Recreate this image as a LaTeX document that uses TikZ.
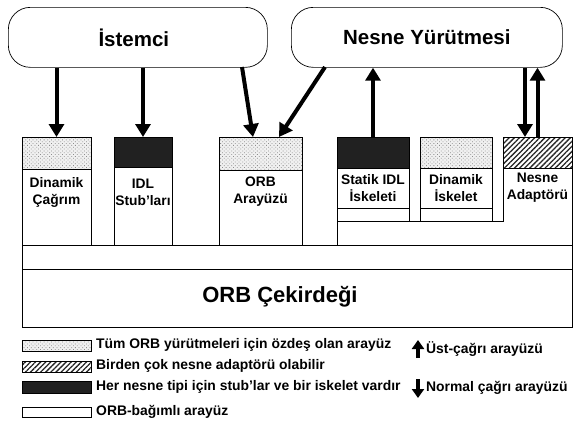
\documentclass[tikz,border=0pt]{standalone}
\usepackage{fontspec}
\setmainfont{Liberation Sans}
\usetikzlibrary{arrows.meta,patterns,patterns.meta}
\newcommand\cellbox[6]{\node[cell,#6,minimum width=#4-#2,minimum height=#5-#3] (#1) at (#2,#3) {};}
\begin{document}
\begin{tikzpicture}[x=1pt,y=-1pt,
  cell/.style={draw, line width=0.7pt, inner sep=0pt, outer sep=0pt, anchor=north west},
  dotsfill/.style={preaction={fill=gray!12}, pattern={Dots[distance=2.6pt,radius=0.55pt,angle=45]}, pattern color=gray!90},
  hatchfill/.style={pattern={Lines[angle=45,distance=3.6pt,line width=1.3pt]}, pattern color=black!85},
  darkfill/.style={fill=black!87},
  plain/.style={fill=white},
  proc/.style={draw, line width=0.7pt, rounded corners=22pt, inner sep=0pt, anchor=north west,
    font=\fontsize{20.5}{24}\selectfont\bfseries},
  title/.style={font=\fontsize{22}{26}\selectfont\bfseries, inner sep=0pt},
  lbl/.style={font=\fontsize{13.8}{17}\selectfont\bfseries, align=center, inner sep=0pt},
  leg/.style={font=\fontsize{13.9}{16}\selectfont\bfseries, anchor=west, inner sep=0pt},
  flow/.style={line width=4pt, -{Triangle[width=15pt,length=13pt]}},
  legflow/.style={line width=3.5pt, -{Triangle[width=12pt,length=9pt]}},
]
\useasboundingbox (0,0) rectangle (574,423);
% process boxes
\node[proc, minimum width=259pt, minimum height=60pt] (ist) at (8,7) {\kern-8pt İstemci};
\node[proc, minimum width=271pt, minimum height=60pt] (nes) at (291,7) {Nesne Yürütmesi};
% client side interfaces
\cellbox{dctT}{22}{137}{91}{169}{dotsfill}
\cellbox{dctB}{22}{169}{91}{245}{plain}
\cellbox{idlT}{114}{137}{172}{167}{darkfill}
\cellbox{idlB}{114}{167}{172}{245}{plain}
\cellbox{orbT}{219}{137}{302}{170}{dotsfill}
\cellbox{orbB}{219}{170}{302}{245}{plain}
% server side
\cellbox{staT}{337}{137}{409}{168}{darkfill}
\cellbox{staB}{337}{168}{409}{208}{plain}
\cellbox{staS}{337}{208}{409}{221}{plain}
\cellbox{dskT}{420}{137}{492}{168}{dotsfill}
\cellbox{dskB}{420}{168}{492}{208}{plain}
\cellbox{dskS}{420}{208}{492}{221}{plain}
\cellbox{adaT}{503}{137}{572}{168}{hatchfill}
% core
\cellbox{band}{22}{245}{572}{269}{plain}
\cellbox{core}{22}{269}{572}{327}{plain}
\node[title] (coret) at (280,297) {ORB Çekirdeği};
% object adapter outline
\draw[line width=0.7pt] (adaT.south west) -- (adaT.south west |- staS.south) -- (staS.south west)
  -- (staS.south west |- band.north) -- (band.north -| adaT.east) -- (adaT.south east);
% labels
\node[lbl] (dctl) at (56.5,192) {Dinamik\\Çağrım};
\node[lbl] (idll) at (143,192) {IDL\\Stub'ları};
\node[lbl] (orbl) at (260.5,192) {ORB\\Arayüzü};
\node[lbl] (stal) at (373,188) {Statik IDL\\İskeleti};
\node[lbl] (dskl) at (456,188) {Dinamik\\İskelet};
\node[lbl] (adal) at (537.5,188) {Nesne\\Adaptörü};
% arrows
\coordinate (c3s) at (242,67);
\coordinate (c3e) at (253,137);
\coordinate (c4s) at (325,67);
\coordinate (c4e) at (279,137);
\coordinate (c6) at (525,137);
\draw[flow] (ist.south -| dctT.north) -- (dctT.north);
\draw[flow] (ist.south -| idlT.north) -- (idlT.north);
\draw[flow] (c3s) -- (c3e);
\draw[flow] (c4s) -- (c4e);
\draw[flow] (staT.north) -- (nes.south -| staT.north);
\draw[flow] (nes.south -| c6) -- (c6);
\draw[flow] (adaT.north) -- (nes.south -| adaT.north);
% legend
\cellbox{lg1}{22}{340}{91}{351}{dotsfill}
\cellbox{lg2}{22}{361}{91}{372}{hatchfill}
\cellbox{lg3}{22}{381}{91}{393}{darkfill}
\cellbox{lg4}{22}{407}{91}{417}{plain}
\node[leg] (lt1) at (96,345) {Tüm ORB yürütmeleri için özdeş olan arayüz};
\node[leg] (lt2) at (96,366) {Birden çok nesne adaptörü olabilir};
\node[leg] (lt3) at (96,387) {Her nesne tipi için stub'lar ve bir iskelet vardır};
\node[leg] (lt4) at (96,412) {ORB-bağımlı arayüz};
\coordinate (u1) at (418,358);
\coordinate (u2) at (418,340);
\coordinate (d1) at (418,379);
\coordinate (d2) at (418,398);
\draw[legflow] (u1) -- (u2);
\draw[legflow] (d1) -- (d2);
\node[leg] (lu) at (426,349) {Üst-çağrı arayüzü};
\node[leg] (ld) at (426,388) {Normal çağrı arayüzü};
\end{tikzpicture}
\end{document}
